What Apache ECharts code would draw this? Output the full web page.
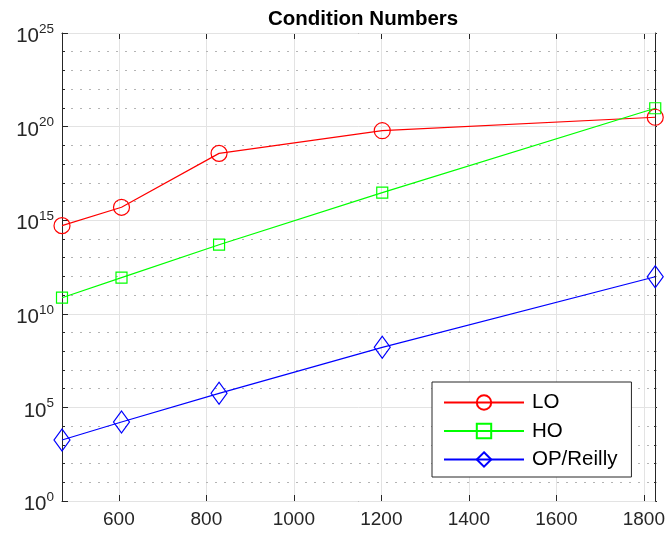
<!DOCTYPE html>
<html>
<head>
<meta charset="utf-8">
<script src="https://cdn.jsdelivr.net/npm/echarts@6/dist/echarts.min.js"></script>
<style>
html,body{margin:0;padding:0;background:#fff;}
#chart{width:668px;height:536px;}
</style>
</head>
<body>
<div id="chart"></div>
<script>
// ---- data ----
const xValues = [470, 606, 829, 1202, 1826];
const seriesNames = ['LO', 'HO', 'OP/Reilly'];
const loExp = [14.71, 15.69, 18.57, 19.78, 20.50];
const hoExp = [10.86, 11.93, 13.69, 16.47, 20.98];
const opExp = [3.26, 4.22, 5.75, 8.21, 11.98];
const xTicks = [600, 800, 1000, 1200, 1400, 1600, 1800];
const titleText = 'Condition Numbers';

const toPairs = (exps) => xValues.map((x, i) => [x, Math.pow(10, exps[i])]);

const FONT = '"Liberation Sans", Arial, sans-serif';
const AX = '#262626';
const GRID = '#e3e3e3';
const gridRect = { left: 62, top: 33, right: 11, bottom: 35 };

const yLabelFmt = (v) => {
  const e = Math.round(Math.log10(v));
  return '{b|10}{s|' + e + '}';
};

const chart = echarts.init(document.getElementById('chart'));
chart.setOption({
  animation: false,
  backgroundColor: '#fff',
  title: {
    text: titleText,
    left: 263, top: 4,
    textStyle: { fontFamily: FONT, fontWeight: 'bold', fontSize: 20.5, color: '#000' }
  },
  grid: [
    Object.assign({}, gridRect),
    Object.assign({}, gridRect)
  ],
  xAxis: [
    {
      type: 'value', gridIndex: 0, position: 'bottom', min: 470, max: 1826,
      axisLine: { lineStyle: { color: AX, width: 1 } },
      axisTick: { inside: true, length: 6, customValues: xTicks, lineStyle: { color: AX } },
      axisLabel: { customValues: xTicks, formatter: (v) => String(v), fontFamily: FONT, fontSize: 19, color: AX, margin: 9 },
      splitLine: { show: true, lineStyle: { color: GRID, width: 1 } }
    },
    {
      type: 'value', gridIndex: 0, position: 'top', min: 470, max: 1826,
      axisLine: { lineStyle: { color: AX, width: 1 } },
      axisTick: { inside: true, length: 6, customValues: xTicks, lineStyle: { color: AX } },
      axisLabel: { show: false },
      splitLine: { show: false }
    },
    {
      type: 'value', gridIndex: 1, min: 470, max: 1826, show: false
    }
  ],
  yAxis: [
    {
      type: 'log', logBase: 10, gridIndex: 0, position: 'left', min: 1, max: 1e25, interval: 5,
      axisLine: { lineStyle: { color: AX, width: 1 } },
      axisTick: { inside: true, length: 6, lineStyle: { color: AX } },
      axisLabel: {
        formatter: yLabelFmt, margin: 8, color: AX,
        rich: {
          b: { fontFamily: FONT, fontSize: 20.5, color: AX, verticalAlign: 'bottom', lineHeight: 20, padding: [0, 0, -4, 0] },
          s: { fontFamily: FONT, fontSize: 13.5, color: AX, verticalAlign: 'bottom', padding: [0, 0, 7, 0], lineHeight: 20 }
        }
      },
      splitLine: { show: true, lineStyle: { color: GRID, width: 1 } },
      z: 3
    },
    {
      type: 'log', logBase: 10, gridIndex: 0, position: 'right', min: 1, max: 1e25, interval: 5,
      axisLine: { lineStyle: { color: AX, width: 1 } },
      axisTick: { inside: true, length: 6, lineStyle: { color: AX } },
      axisLabel: { show: false },
      splitLine: { show: false }
    },
    {
      type: 'log', logBase: 10, gridIndex: 1, position: 'left', min: 1, max: 1e25, interval: 1,
      axisLine: { show: false },
      axisTick: { inside: true, length: 3, lineStyle: { color: AX } },
      axisLabel: { show: false },
      splitLine: { show: true, lineStyle: { color: ['transparent', '#b4b4b4', '#b4b4b4', '#b4b4b4', '#b4b4b4'], type: [2, 7], width: 1 } },
      z: 1
    },
    {
      type: 'log', logBase: 10, gridIndex: 1, position: 'right', min: 1, max: 1e25, interval: 1,
      axisLine: { show: false },
      axisTick: { inside: true, length: 3, lineStyle: { color: AX } },
      axisLabel: { show: false },
      splitLine: { show: false }
    }
  ],
  legend: {
    orient: 'vertical', left: 432, top: 382,
    data: seriesNames,
    itemWidth: 80, itemHeight: 18, itemGap: 7.5,
    padding: [10, 14, 7, 11],
    backgroundColor: '#fff', borderColor: AX, borderWidth: 1,
    textStyle: { fontFamily: FONT, fontSize: 20.5, color: '#000', padding: [0, 0, 0, 3] }
  },
  series: [
    {
      name: seriesNames[0], type: 'line', data: toPairs(loExp), xAxisIndex: 0, yAxisIndex: 0,
      symbol: 'circle', symbolSize: 16,
      itemStyle: { color: 'transparent', borderColor: '#ff0000', borderWidth: 1.2 },
      lineStyle: { color: '#ff0000', width: 1.2 }, z: 5
    },
    {
      name: seriesNames[1], type: 'line', data: toPairs(hoExp), xAxisIndex: 0, yAxisIndex: 0,
      symbol: 'rect', symbolSize: 11,
      itemStyle: { color: 'transparent', borderColor: '#00ff00', borderWidth: 1.2 },
      lineStyle: { color: '#00ff00', width: 1.2 }, z: 5
    },
    {
      name: seriesNames[2], type: 'line', data: toPairs(opExp), xAxisIndex: 0, yAxisIndex: 0,
      symbol: 'diamond', symbolSize: [16, 22],
      itemStyle: { color: 'transparent', borderColor: '#0000ff', borderWidth: 1.2 },
      lineStyle: { color: '#0000ff', width: 1.2 }, z: 5
    }
  ]
});
</script>
</body>
</html>
